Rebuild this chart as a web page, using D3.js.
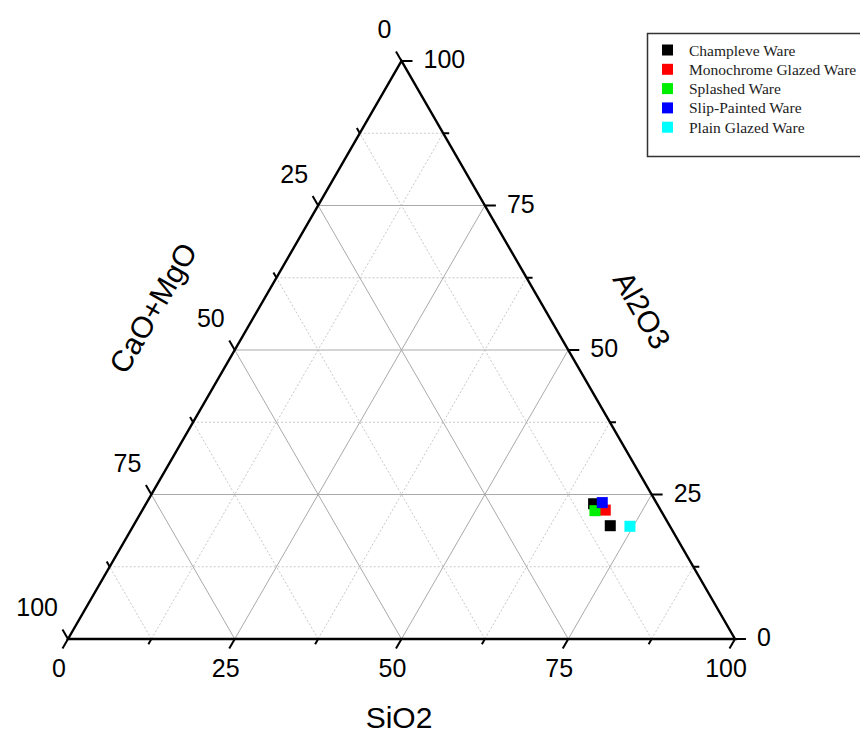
<!DOCTYPE html>
<html>
<head>
<meta charset="utf-8">
<script src="https://cdn.jsdelivr.net/npm/d3@7"></script>
<style>
  html, body { margin: 0; padding: 0; background: #fff; }
  svg { display: block; }
</style>
</head>
<body>
<svg id="chart" width="860" height="734"></svg>
<script>
// Ternary composition data (wt%): SiO2, Al2O3; CaO+MgO is the remainder
const series = ["Champleve Ware", "Monochrome Glazed Ware", "Splashed Ware", "Slip-Painted Ware", "Plain Glazed Ware"];
const colors = ["#000000", "#ff0000", "#00ee00", "#0000ff", "#00ffff"];
const sio2Values = [[67.1, 71.5], [69.4], [67.9], [68.3], [74.5]];
const al2o3Values = [[23.4, 19.6], [22.3], [22.2], [23.6], [19.5]];
const majorTicks = [0, 25, 50, 75, 100];
const minorTicks = [12.5, 37.5, 62.5, 87.5];
const axisTitles = { bottom: "SiO2", left: "CaO+MgO", right: "Al2O3" };

const svg = d3.select("#chart");

// Triangle frame: bottom-left = CaO+MgO apex, bottom-right = SiO2 apex, top = Al2O3 apex
const frameLeft = 68, frameRight = 735, frameBase = 639, frameTop = 61;
const xScale = d3.scaleLinear().domain([0, 100]).range([frameLeft, frameRight]);
const yScale = d3.scaleLinear().domain([0, 100]).range([frameBase, frameTop]);

// composition -> screen position
function pos(sio2, al2o3) {
  return [xScale(sio2 + al2o3 / 2), yScale(al2o3)];
}
// point on each edge for a given axis value
const onBottom = v => pos(v, 0);            // SiO2 axis, Al2O3 = 0
const onRight  = v => pos(100 - v, v);      // Al2O3 axis, CaO+MgO = 0
const onLeft   = v => pos(0, 100 - v);      // CaO+MgO axis, SiO2 = 0

const line = d3.line();

// grid lines: constant SiO2, constant Al2O3, constant CaO+MgO
function gridLines(v) {
  return [
    [pos(v, 0), pos(v, 100 - v)],
    [pos(0, v), pos(100 - v, v)],
    [pos(100 - v, 0), pos(0, 100 - v)]
  ];
}
const gGrid = svg.append("g");
minorTicks.forEach(v => {
  gridLines(v).forEach(seg => {
    gGrid.append("path").attr("d", line(seg))
      .attr("stroke", "#c8c8c8").attr("stroke-width", 1)
      .attr("stroke-dasharray", "2,2").attr("fill", "none");
  });
});
majorTicks.filter(v => v > 0 && v < 100).forEach(v => {
  gridLines(v).forEach(seg => {
    gGrid.append("path").attr("d", line(seg))
      .attr("stroke", "#aaaaaa").attr("stroke-width", 1).attr("fill", "none");
  });
});

// triangle outline
svg.append("path")
  .attr("d", line([pos(0, 0), pos(100, 0), pos(0, 100)]) + "Z")
  .attr("fill", "none").attr("stroke", "#000").attr("stroke-width", 2.4)
  .attr("stroke-linejoin", "miter");

// ticks
const s3 = Math.sqrt(3) / 2;
const tickDirs = {
  bottom: [-0.5, s3],
  right: [1, 0],
  left: [-0.5, -s3]
};
const gTicks = svg.append("g").attr("stroke", "#000").attr("stroke-width", 2);
function drawTicks(fn, dir, vals, len) {
  vals.forEach(v => {
    const p = fn(v);
    gTicks.append("line")
      .attr("x1", p[0]).attr("y1", p[1])
      .attr("x2", p[0] + dir[0] * len).attr("y2", p[1] + dir[1] * len);
  });
}
drawTicks(onBottom, tickDirs.bottom, majorTicks, 11);
drawTicks(onBottom, tickDirs.bottom, minorTicks, 6);
drawTicks(onRight, tickDirs.right, majorTicks, 11);
drawTicks(onRight, tickDirs.right, minorTicks, 6);
drawTicks(onLeft, tickDirs.left, majorTicks, 11);
drawTicks(onLeft, tickDirs.left, minorTicks, 6);

// tick labels
const font = "'Liberation Sans', Arial, sans-serif";
const gLabels = svg.append("g").attr("font-family", font).attr("font-size", 25).attr("fill", "#000");
majorTicks.forEach(v => {
  const b = onBottom(v);
  gLabels.append("text").attr("x", b[0] - 9).attr("y", b[1] + 29)
    .attr("text-anchor", "middle").attr("dominant-baseline", "central").text(v);
  const r = onRight(v);
  gLabels.append("text").attr("x", r[0] + 22).attr("y", r[1] - 2)
    .attr("text-anchor", "start").attr("dominant-baseline", "central").text(v);
  const l = onLeft(v);
  gLabels.append("text").attr("x", l[0] - 10).attr("y", l[1] - 32)
    .attr("text-anchor", "end").attr("dominant-baseline", "central").text(v);
});

// axis titles
const gTitles = svg.append("g").attr("font-family", font).attr("font-size", 30).attr("fill", "#000");
gTitles.append("text").attr("transform", "translate(399,717)")
  .attr("text-anchor", "middle").attr("dominant-baseline", "central").text(axisTitles.bottom);
gTitles.append("text").attr("transform", "translate(153,308) rotate(-60)")
  .attr("text-anchor", "middle").attr("dominant-baseline", "central").text(axisTitles.left);
gTitles.append("text").attr("transform", "translate(642,310) rotate(60)")
  .attr("text-anchor", "middle").attr("dominant-baseline", "central").text(axisTitles.right);

// data points
const size = 11;
const gPts = svg.append("g");
series.forEach((name, i) => {
  sio2Values[i].forEach((s, j) => {
    const p = pos(s, al2o3Values[i][j]);
    gPts.append("rect")
      .attr("x", p[0] - size / 2).attr("y", p[1] - size / 2)
      .attr("width", size).attr("height", size)
      .attr("fill", colors[i]);
  });
});

// legend
const gLeg = svg.append("g");
gLeg.append("rect").attr("x", 647.5).attr("y", 33.5).attr("width", 230).attr("height", 123)
  .attr("fill", "#fff").attr("stroke", "#333").attr("stroke-width", 1.5);
series.forEach((name, i) => {
  const cy = 50 + i * 19.3;
  gLeg.append("rect").attr("x", 662).attr("y", cy - 5.5).attr("width", 11).attr("height", 11)
    .attr("fill", colors[i]);
  gLeg.append("text").attr("x", 689).attr("y", cy)
    .attr("dominant-baseline", "central")
    .attr("font-family", "'Liberation Serif', 'Times New Roman', serif").attr("font-size", 15.5)
    .attr("fill", "#222").text(name);
});
</script>
</body>
</html>
